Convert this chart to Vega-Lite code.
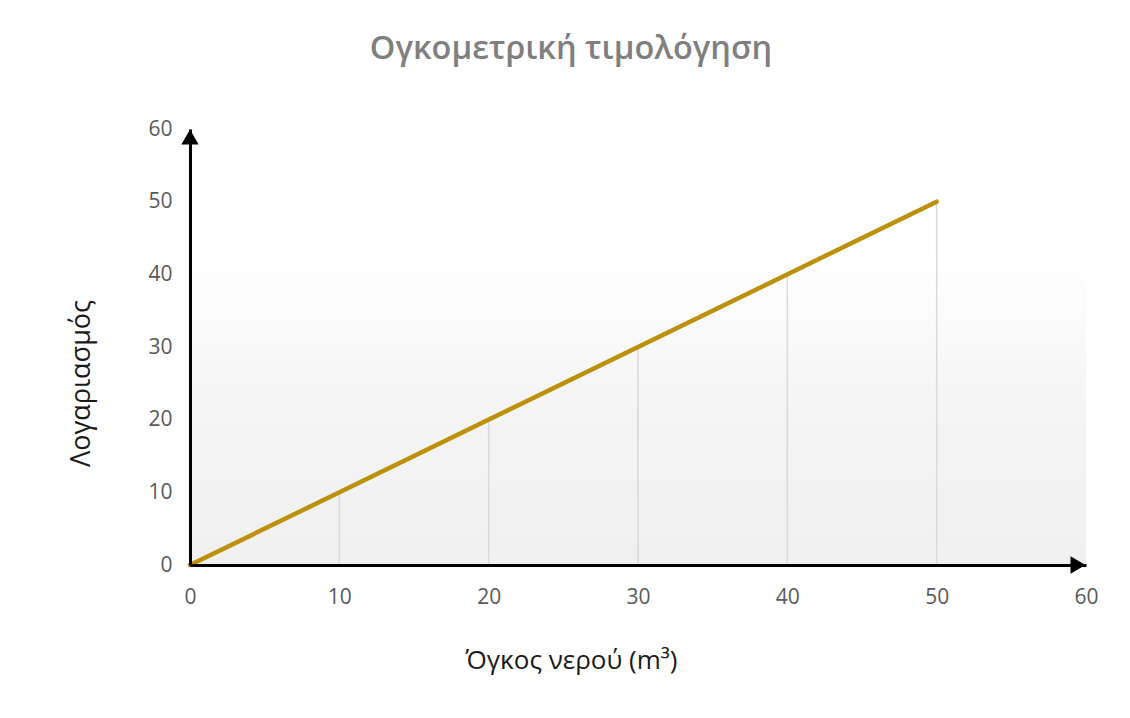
{
  "$schema": "https://vega.github.io/schema/vega-lite/v6.json",
  "autosize": {"type": "none"},
  "width": 896,
  "height": 436,
  "padding": {"left": 190, "top": 129, "right": 44, "bottom": 153},
  "background": "white",
  "config": {"view": {"stroke": null}, "font": "Open Sans"},
  "title": {
    "text": "Ογκομετρική τιμολόγηση",
    "anchor": "middle",
    "frame": "group",
    "dx": -67,
    "offset": 53,
    "fontSize": 32.5,
    "fontWeight": 600,
    "color": "#7f7f7f",
    "font": "Open Sans"
  },
  "datasets": {
    "line": [{"x": 0, "y": 0}, {"x": 50, "y": 50}],
    "drops": [
      {"x": 10, "y0": 0, "y": 10},
      {"x": 20, "y0": 0, "y": 20},
      {"x": 30, "y0": 0, "y": 30},
      {"x": 40, "y0": 0, "y": 40},
      {"x": 50, "y0": 0, "y": 50}
    ],
    "band": [{"x": 0, "x2": 60, "y": 0, "y2": 42}],
    "arrowUp": [{"x": 0, "y": 60}],
    "arrowRight": [{"x": 60, "y": 0}]
  },
  "layer": [
    {
      "data": {"name": "band"},
      "mark": {
        "type": "rect",
        "color": {
          "gradient": "linear",
          "x1": 0, "y1": 0, "x2": 0, "y2": 1,
          "stops": [
            {"offset": 0, "color": "#ffffff"},
            {"offset": 0.45, "color": "#f5f5f5"},
            {"offset": 1, "color": "#f0f0f0"}
          ]
        }
      },
      "encoding": {
        "x": {
          "field": "x", "type": "quantitative",
          "scale": {"domain": [0, 60], "nice": false},
          "axis": {
            "values": [0, 10, 20, 30, 40, 50, 60],
            "grid": false,
            "ticks": false,
            "domainColor": "#000000",
            "domainWidth": 3,
            "labelFont": "Open Sans",
            "labelFontSize": 21,
            "labelColor": "#595959",
            "labelPadding": 21,
            "labelFlush": false,
            "title": "Όγκος νερού (m³)",
            "titleFont": "Open Sans",
            "titleFontSize": 26,
            "titleFontWeight": "normal",
            "titleColor": "#1a1a1a",
            "titleX": 381,
            "titleY": 95,
            "titleAlign": "center",
            "titleBaseline": "middle",
            "zindex": 1
          }
        },
        "x2": {"field": "x2"},
        "y": {
          "field": "y", "type": "quantitative",
          "scale": {"domain": [0, 60], "nice": false},
          "axis": {
            "values": [0, 10, 20, 30, 40, 50, 60],
            "grid": false,
            "ticks": false,
            "domainColor": "#000000",
            "domainWidth": 3,
            "labelFont": "Open Sans",
            "labelFontSize": 21,
            "labelColor": "#595959",
            "labelPadding": 18,
            "labelFlush": false,
            "title": "Λογαριασμός",
            "titleFont": "Open Sans",
            "titleFontSize": 27,
            "titleFontWeight": "normal",
            "titleColor": "#1a1a1a",
            "titleAngle": -90,
            "titleX": -109,
            "titleY": 254,
            "titleAlign": "center",
            "titleBaseline": "middle",
            "zindex": 1
          }
        },
        "y2": {"field": "y2"}
      }
    },
    {
      "data": {"name": "drops"},
      "mark": {"type": "rule", "color": "#d9d9d9", "strokeWidth": 1.5},
      "encoding": {
        "x": {"field": "x", "type": "quantitative"},
        "y": {"field": "y0", "type": "quantitative"},
        "y2": {"field": "y"}
      }
    },
    {
      "data": {"name": "line"},
      "mark": {"type": "line", "color": "#bc9009", "strokeWidth": 4.5, "strokeCap": "round"},
      "encoding": {
        "x": {"field": "x", "type": "quantitative"},
        "y": {"field": "y", "type": "quantitative"}
      }
    },
    {
      "data": {"name": "arrowUp"},
      "mark": {"type": "point", "shape": "triangle-up", "filled": true, "color": "#000000", "size": 300, "opacity": 1, "yOffset": 8},
      "encoding": {
        "x": {"field": "x", "type": "quantitative"},
        "y": {"field": "y", "type": "quantitative"}
      }
    },
    {
      "data": {"name": "arrowRight"},
      "mark": {"type": "point", "shape": "triangle-right", "filled": true, "color": "#000000", "size": 300, "opacity": 1, "xOffset": -8},
      "encoding": {
        "x": {"field": "x", "type": "quantitative"},
        "y": {"field": "y", "type": "quantitative"}
      }
    }
  ]
}
